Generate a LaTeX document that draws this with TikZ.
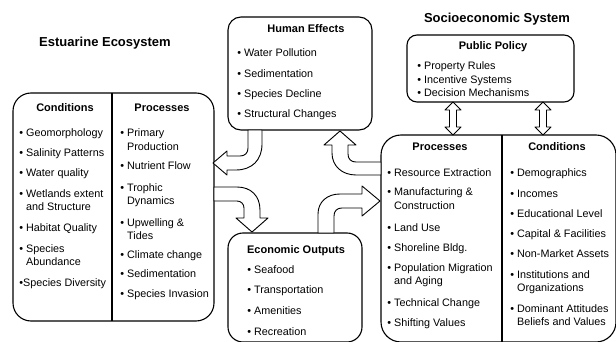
\documentclass[tikz,border=0pt]{standalone}
\usepackage{fontspec}
\setmainfont{Liberation Sans}
\newcommand\bul[1]{\textbullet\ #1}
\newcommand\bultwo[2]{\vtop{\baselineskip=13.5pt\hbox{\textbullet\ #1}\hbox{\hphantom{\textbullet\ }#2}}}

\begin{document}
\begin{tikzpicture}[x=1pt,y=-1pt,thick,
		box/.style={draw,line width=1.1pt,rounded corners=#1,inner sep=0pt},
		item/.style={anchor=base west,inner sep=0pt,font=\fontsize{10.8}{13}\selectfont},
		head/.style={anchor=base,inner sep=0pt,font=\fontsize{11}{13}\selectfont\bfseries},
		title/.style={anchor=base,inner sep=0pt,font=\fontsize{13}{15}\selectfont\bfseries},
		block/.style={draw,fill=white,line width=0.9pt,line join=round}]

	\useasboundingbox (0,0) rectangle (616,342);

	% titles
	\node [title] (eco-title) at (105,47) {Estuarine Ecosystem};
	\node [title] (soc-title) at (497,23) {Socioeconomic System};

	% boxes
	\node [box=18pt, minimum width=201pt, minimum height=228pt] (eco) at (113.5,207) {};
	\node [box=13pt, minimum width=144pt, minimum height=113pt] (hum) at (300,73.5) {};
	\node [box=10pt, minimum width=167pt, minimum height=67pt] (pol) at (490.5,68.5) {};
	\node [box=20pt, minimum width=235pt, minimum height=207pt] (soc) at (498.5,238.5) {};
	\node [box=15pt, minimum width=134pt, minimum height=109pt] (out) at (295,287.5) {};
	\draw [line width=1.1pt] (112,93) -- (112,321);
	\draw [line width=1.1pt] (502,135) -- (502,342);

	% headings
	\node [head] (eco-cond) at (65,112) {Conditions};
	\node [head] (eco-proc) at (162,112) {Processes};
	\node [head] (hum-head) at (306,33) {Human Effects};
	\node [head] (pol-head) at (493,50) {Public Policy};
	\node [head] (soc-proc) at (440,151) {Processes};
	\node [head] (soc-cond) at (557,151) {Conditions};
	\node [head] (out-head) at (296,253) {Economic Outputs};

	% estuarine conditions and processes
	\foreach \txt/\yy [count=\i] in {{\bul{Geomorphology}}/137, {\bul{Salinity Patterns}}/157,
			{\bul{Water quality}}/177, {\bultwo{Wetlands extent}{and Structure}}/197,
			{\bul{Habitat Quality}}/231, {\bultwo{Species}{Abundance}}/252,
			{\textbullet{}Species Diversity}/286}
		\node [item] (eco-c\i) at (19,\yy) {\txt};
	\foreach \txt/\yy [count=\i] in {{\bultwo{Primary}{Production}}/137, {\bul{Nutrient Flow}}/170,
			{\bultwo{Trophic}{Dynamics}}/191, {\bultwo{Upwelling \&}{Tides}}/226,
			{\bul{Climate change}}/258, {\bul{Sedimentation}}/277, {\bul{Species Invasion}}/297}
		\node [item] (eco-p\i) at (120,\yy) {\txt};

	% human effects, policy, outputs
	\foreach \txt/\yy [count=\i] in {Water Pollution/57, Sedimentation/78,
			Species Decline/98, Structural Changes/118}
		\node [item] (hum-\i) at (237,\yy) {\bul{\txt}};
	\foreach \txt/\yy [count=\i] in {Property Rules/70, Incentive Systems/84,
			Decision Mechanisms/97}
		\node [item] (pol-\i) at (417,\yy) {\bul{\txt}};
	\foreach \txt/\yy [count=\i] in {Seafood/273, Transportation/293,
			Amenities/314, Recreation/335}
		\node [item] (out-\i) at (247,\yy) {\bul{\txt}};

	% socioeconomic processes and conditions
	\foreach \txt/\yy [count=\i] in {{\bul{Resource Extraction}}/177,
			{\bultwo{Manufacturing \&}{Construction}}/196, {\bul{Land Use}}/231,
			{\bul{Shoreline Bldg.}}/251, {\bultwo{Population Migration}{and Aging}}/271,
			{\bul{Technical Change}}/306, {\bul{Shifting Values}}/326}
		\node [item] (soc-p\i) at (387,\yy) {\txt};
	\foreach \txt/\yy [count=\i] in {{\bul{Demographics}}/177, {\bul{Incomes}}/197,
			{\bul{Educational Level}}/217, {\bul{Capital \& Facilities}}/237,
			{\bul{Non-Market Assets}}/257, {\bultwo{Institutions and}{Organizations}}/278,
			{\bultwo{Dominant Attitudes}{Beliefs and Values}}/312}
		\node [item] (soc-c\i) at (510,\yy) {\txt};

	% block arrows
	\draw [block] (248,130) -- (248,148) .. controls (248,153) and (245,156) .. (240,156)
		-- (227,156) -- (227,151) -- (213,163) -- (227,175) -- (227,170) -- (236,170)
		.. controls (252,170) and (262,160) .. (262,144) -- (262,130) -- cycle;
	\draw [block] (214,187) -- (237,187) .. controls (251,187) and (260,196) .. (260,210)
		-- (260,218) -- (268,218) -- (252,232) -- (236,218) -- (244,218) -- (244,208)
		.. controls (244,204) and (241,201) .. (237,201) -- (214,201) -- cycle;
	\draw [block] (318,233) -- (318,214) .. controls (318,202) and (327,194) .. (340,194)
		-- (362,194) -- (362,186) -- (380,201) -- (362,216) -- (362,208) -- (342,208)
		.. controls (337,208) and (334,211) .. (334,216) -- (334,233) -- cycle;
	\draw [block] (381,162) -- (356,162) .. controls (351,162) and (348,159) .. (348,154)
		-- (348,145) -- (356,145) -- (340,131) -- (324,145) -- (332,145) -- (332,153)
		.. controls (332,166) and (342,175) .. (356,175) -- (381,175) -- cycle;
	\foreach \xx in {453,543}
		\draw [block] (\xx,102) -- (\xx+8,110) -- (\xx+3.5,110) -- (\xx+3.5,127)
			-- (\xx+8,127) -- (\xx,135) -- (\xx-8,127) -- (\xx-3.5,127)
			-- (\xx-3.5,110) -- (\xx-8,110) -- cycle;
\end{tikzpicture}
\end{document}
